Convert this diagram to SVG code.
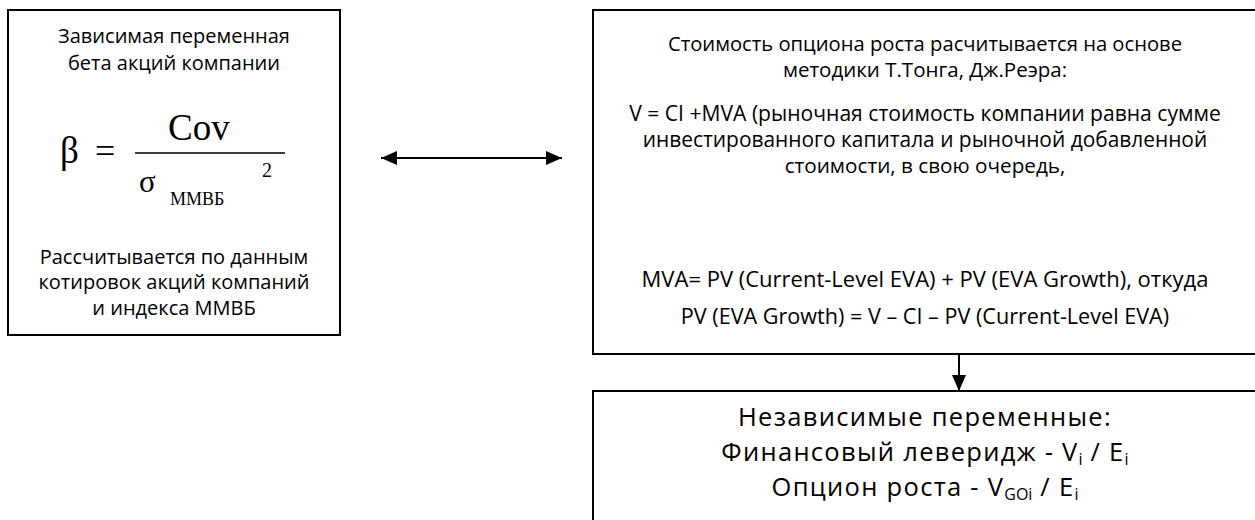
<svg xmlns="http://www.w3.org/2000/svg" width="1255" height="520" viewBox="0 0 1255 520">
<defs>
<style>
.box{fill:#fff;stroke:#000;stroke-width:2}
.t{font-family:"Open Sans","Noto Sans","DejaVu Sans",sans-serif;fill:#000;text-anchor:middle}
.s{font-size:20px}
.b{font-size:25.5px;letter-spacing:1.3px}
.sub{font-size:16px;letter-spacing:0}
.m{font-family:"Liberation Serif","Times New Roman",serif;fill:#000}
.ln{stroke:#000;stroke-width:2;fill:none}
</style>
<marker id="ah" viewBox="0 0 16 14" refX="16" refY="7" markerWidth="16" markerHeight="14" markerUnits="userSpaceOnUse" orient="auto-start-reverse">
<path d="M0,0 L16,7 L0,14 Z" fill="#000"/>
</marker>
</defs>
<rect width="1255" height="520" fill="#fff"/>
<g id="beta">
<rect class="box" x="8" y="10" width="332" height="325"/>
<text class="t s" x="174" y="43">Зависимая переменная</text>
<text class="t s" x="174" y="70">бета акций компании</text>
<text class="m" x="60" y="163" font-size="37">β</text>
<text class="m" x="95" y="163" font-size="36">=</text>
<text class="m" x="168" y="140" font-size="37">Cov</text>
<line x1="135" y1="153" x2="285" y2="153" stroke="#000" stroke-width="1.3"/>
<text class="m" x="262" y="177" font-size="20">2</text>
<text class="m" x="139" y="192" font-size="31">σ</text>
<text class="m" x="170" y="205" font-size="18">ММВБ</text>
<text class="t s" x="174" y="264">Рассчитывается по данным</text>
<text class="t s" x="174" y="289">котировок акций компаний</text>
<text class="t s" x="174" y="315">и индекса ММВБ</text>
</g>
<g id="growth">
<rect class="box" x="593" y="10" width="700" height="344"/>
<text class="t" font-size="20.2" x="925" y="51">Стоимость опциона роста расчитывается на основе</text>
<text class="t" font-size="20.5" x="925" y="77">методики Т.Тонга, Дж.Реэра:</text>
<text class="t" font-size="21.1" x="925" y="121">V = CI +MVA (рыночная стоимость компании равна сумме</text>
<text class="t" font-size="20.9" x="925" y="147">инвестированного капитала и рыночной добавленной</text>
<text class="t" font-size="20.7" x="925" y="173">стоимости, в свою очередь,</text>
<text class="t" font-size="22" x="925" y="287">MVA= PV (Current-Level EVA) + PV (EVA Growth), откуда</text>
<text class="t" font-size="21.6" x="925" y="324">PV (EVA Growth) = V – CI – PV (Current-Level EVA)</text>
</g>
<g id="independent">
<rect class="box" x="593" y="391" width="700" height="200"/>
<text class="t b" x="925" y="426">Независимые переменные:</text>
<text class="t b" x="925" y="461">Финансовый леверидж - V<tspan class="sub" dy="4">i</tspan><tspan dy="-4"> / E</tspan><tspan class="sub" dy="4">i</tspan></text>
<text class="t b" x="925" y="496">Опцион роста - V<tspan class="sub" dy="4">GOi</tspan><tspan dy="-4"> / E</tspan><tspan class="sub" dy="4">i</tspan></text>
</g>
<g id="connectors">
<line class="ln" x1="381" y1="158" x2="562" y2="158" marker-start="url(#ah)" marker-end="url(#ah)"/>
<line class="ln" x1="959" y1="354" x2="959" y2="391" marker-end="url(#ah)"/>
</g>
</svg>
